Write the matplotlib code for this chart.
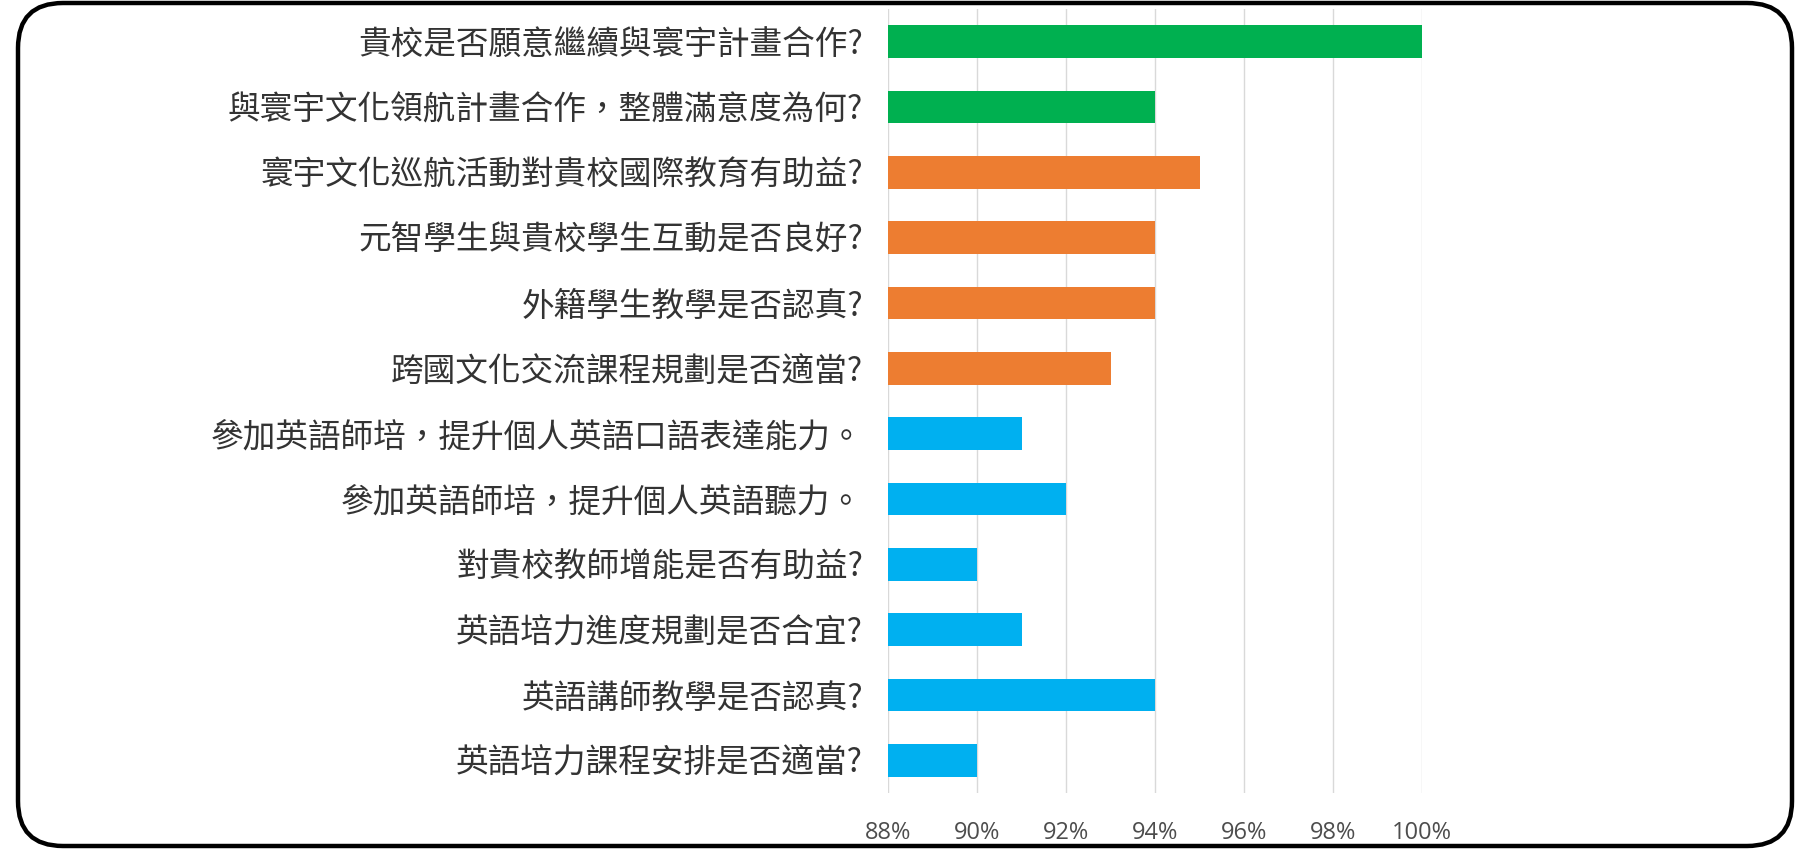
"""Horizontal bar chart of survey satisfaction rates (寰宇計畫問卷)."""
import matplotlib
matplotlib.use("Agg")
import matplotlib.pyplot as plt
from matplotlib.patches import FancyBboxPatch
from matplotlib.ticker import FuncFormatter

plt.rcParams["font.family"] = ["Noto Sans CJK TC", "DejaVu Sans"]

questions = [
    "貴校是否願意繼續與寰宇計畫合作?",
    "與寰宇文化領航計畫合作，整體滿意度為何?",
    "寰宇文化巡航活動對貴校國際教育有助益?",
    "元智學生與貴校學生互動是否良好?",
    "外籍學生教學是否認真?",
    "跨國文化交流課程規劃是否適當?",
    "參加英語師培，提升個人英語口語表達能力。",
    "參加英語師培，提升個人英語聽力。",
    "對貴校教師增能是否有助益?",
    "英語培力進度規劃是否合宜?",
    "英語講師教學是否認真?",
    "英語培力課程安排是否適當?",
]
rates = [100, 94, 95, 94, 94, 93, 91, 92, 90, 91, 94, 90]
groups = ["整體", "整體", "文化", "文化", "文化", "文化",
          "英語", "英語", "英語", "英語", "英語", "英語"]
group_colors = {"整體": "#00B050", "文化": "#ED7D31", "英語": "#00B0F0"}
xticks = [88, 90, 92, 94, 96, 98, 100]

W, H = 1797, 849
fig = plt.figure(figsize=(W / 100, H / 100), dpi=100)
ax = fig.add_axes([888 / W, 1 - 793 / H, (1422 - 888) / W, (793 - 9) / H])

ys = list(range(len(questions)))
ax.barh(ys, [r - xticks[0] for r in rates], left=xticks[0], height=0.5,
        color=[group_colors[g] for g in groups], zorder=2)
ax.set_ylim(len(questions) - 0.5, -0.5)
ax.set_xlim(xticks[0], xticks[-1])
ax.set_yticks(ys)
ax.set_yticklabels(questions, fontsize=23.5, color="#333333")
ax.set_xticks(xticks)
ax.xaxis.set_major_formatter(FuncFormatter(lambda v, _: f"{v:.0f}%"))
ax.tick_params(axis="y", length=0, pad=18)
ax.tick_params(axis="x", length=0, pad=20, labelsize=17, labelcolor="#4d4d4d")
for lab in ax.get_xticklabels():
    lab.set_family(["Open Sans", "DejaVu Sans"])
ax.grid(axis="x", color="#D9D9D9", lw=1, zorder=0)
for s in ax.spines.values():
    s.set_visible(False)

# rounded frame around the whole picture
frame = fig.add_axes([0, 0, 1, 1], zorder=-1)
frame.set_xlim(0, W)
frame.set_ylim(0, H)
frame.axis("off")
frame.add_patch(FancyBboxPatch((18, 3), 1792 - 18, 846 - 3,
                               boxstyle="round,pad=0,rounding_size=45",
                               fc="white", ec="black", lw=3.2))

fig.savefig("out.png", dpi=100)
